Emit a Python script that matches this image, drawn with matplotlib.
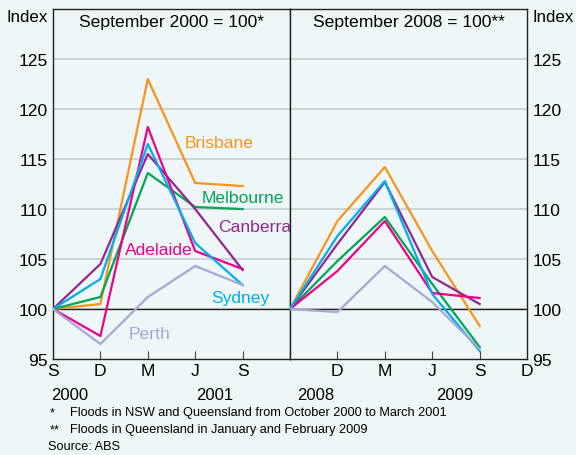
import matplotlib.pyplot as plt

plt.rcParams['font.family'] = ['Liberation Sans', 'DejaVu Sans']

cities = ['Brisbane', 'Melbourne', 'Canberra', 'Adelaide', 'Sydney', 'Perth']
colors = ['#f7941d', '#00a651', '#92278f', '#ec008c', '#00aeef', '#aaa6d6']

# Sep 2000 = 100 : S, D, M, J, S
idx_2000 = {
    'Brisbane':  [100, 100.5, 123.0, 112.6, 112.3],
    'Melbourne': [100, 101.2, 113.6, 110.2, 110.0],
    'Canberra':  [100, 104.5, 115.5, 110.0, 103.9],
    'Adelaide':  [100, 97.3, 118.2, 105.8, 104.0],
    'Sydney':    [100, 103.0, 116.5, 106.6, 102.4],
    'Perth':     [100, 96.5, 101.2, 104.3, 102.4],
}
# Sep 2008 = 100 : S, D, M, J, S
idx_2008 = {
    'Brisbane':  [100, 108.8, 114.2, 105.8, 98.3],
    'Melbourne': [100, 104.8, 109.2, 102.5, 96.2],
    'Canberra':  [100, 106.5, 112.7, 103.2, 100.5],
    'Adelaide':  [100, 103.8, 108.8, 101.6, 101.1],
    'Sydney':    [100, 107.3, 112.8, 101.5, 95.8],
    'Perth':     [100, 99.7, 104.3, 100.7, 96.0],
}
quarters = [0, 1, 2, 3, 4]
left_ticks = ['S', 'D', 'M', 'J', 'S']
right_ticks = ['D', 'M', 'J', 'S', 'D']
yticks = [95, 100, 105, 110, 115, 120, 125]

# label positions (quarter, index)
label_pos = {
    'Brisbane': (3.5, 116.7),
    'Melbourne': (4.0, 111.2),
    'Canberra': (4.25, 108.3),
    'Adelaide': (2.23, 106.0),
    'Sydney': (3.96, 101.2),
    'Perth': (2.04, 97.6),
}

fs = 12.6
bg = '#eef6f8'
fig = plt.figure(figsize=(5.76, 4.56), dpi=100, facecolor=bg)
ax1 = fig.add_axes([0.092, 0.2105, 0.4115, 0.7675])
ax2 = fig.add_axes([0.5035, 0.2105, 0.4115, 0.7675])

for ax, data in [(ax1, idx_2000), (ax2, idx_2008)]:
    ax.set_facecolor(bg)
    ax.set_xlim(0, 5)
    ax.set_ylim(95, 130)
    ax.set_yticks(yticks)
    for y in yticks[1:]:
        ax.axhline(y, color='#c8cccf', lw=1.2, zorder=0)
    ax.axhline(100, color='#222222', lw=1.0, zorder=1)
    for c, col in zip(cities, colors):
        ax.plot(quarters, data[c], color=col, lw=1.6, zorder=3)
    ax.set_xticks([1, 2, 3, 4])
    ax.tick_params(axis='x', direction='in', length=6, color='#444444', labelbottom=False)
    ax.tick_params(axis='y', length=0, labelsize=fs, pad=4)
    for s in ax.spines.values():
        s.set_color('#222222')
        s.set_linewidth(1.0)
    for q, t in zip(quarters, left_ticks if ax is ax1 else right_ticks):
        xq = q if ax is ax1 else q + 1
        ax.text(xq, -0.012, t, transform=ax.get_xaxis_transform(), ha='center', va='top', fontsize=fs)

ax2.yaxis.tick_right()

for c, col in zip(cities, colors):
    x, y = label_pos[c]
    ax1.text(x, y, c, color=col, fontsize=fs, ha='center', va='center', zorder=4)

ax1.text(0.5, 0.985, 'September 2000 = 100*', transform=ax1.transAxes, ha='center', va='top', fontsize=fs)
ax2.text(0.5, 0.985, 'September 2008 = 100**', transform=ax2.transAxes, ha='center', va='top', fontsize=fs)

fig.text(27 / 576, 1 - 17 / 456, 'Index', ha='center', va='center', fontsize=12.2)
fig.text(553 / 576, 1 - 17 / 456, 'Index', ha='center', va='center', fontsize=12.2)

for x, yr in [(70, '2000'), (215, '2001'), (316, '2008'), (455, '2009')]:
    fig.text(x / 576, 1 - 396 / 456, yr, ha='center', va='center', fontsize=12)

fn = 9.2
fig.text(50 / 576, 1 - 413 / 456, '*', ha='left', va='center', fontsize=fn)
fig.text(70 / 576, 1 - 413 / 456, 'Floods in NSW and Queensland from October 2000 to March 2001', ha='left', va='center', fontsize=fn)
fig.text(50 / 576, 1 - 430 / 456, '**', ha='left', va='center', fontsize=fn)
fig.text(70 / 576, 1 - 430 / 456, 'Floods in Queensland in January and February 2009', ha='left', va='center', fontsize=fn)
fig.text(48 / 576, 1 - 447 / 456, 'Source: ABS', ha='left', va='center', fontsize=fn)

fig.savefig('out.png', dpi=100, facecolor=bg)
